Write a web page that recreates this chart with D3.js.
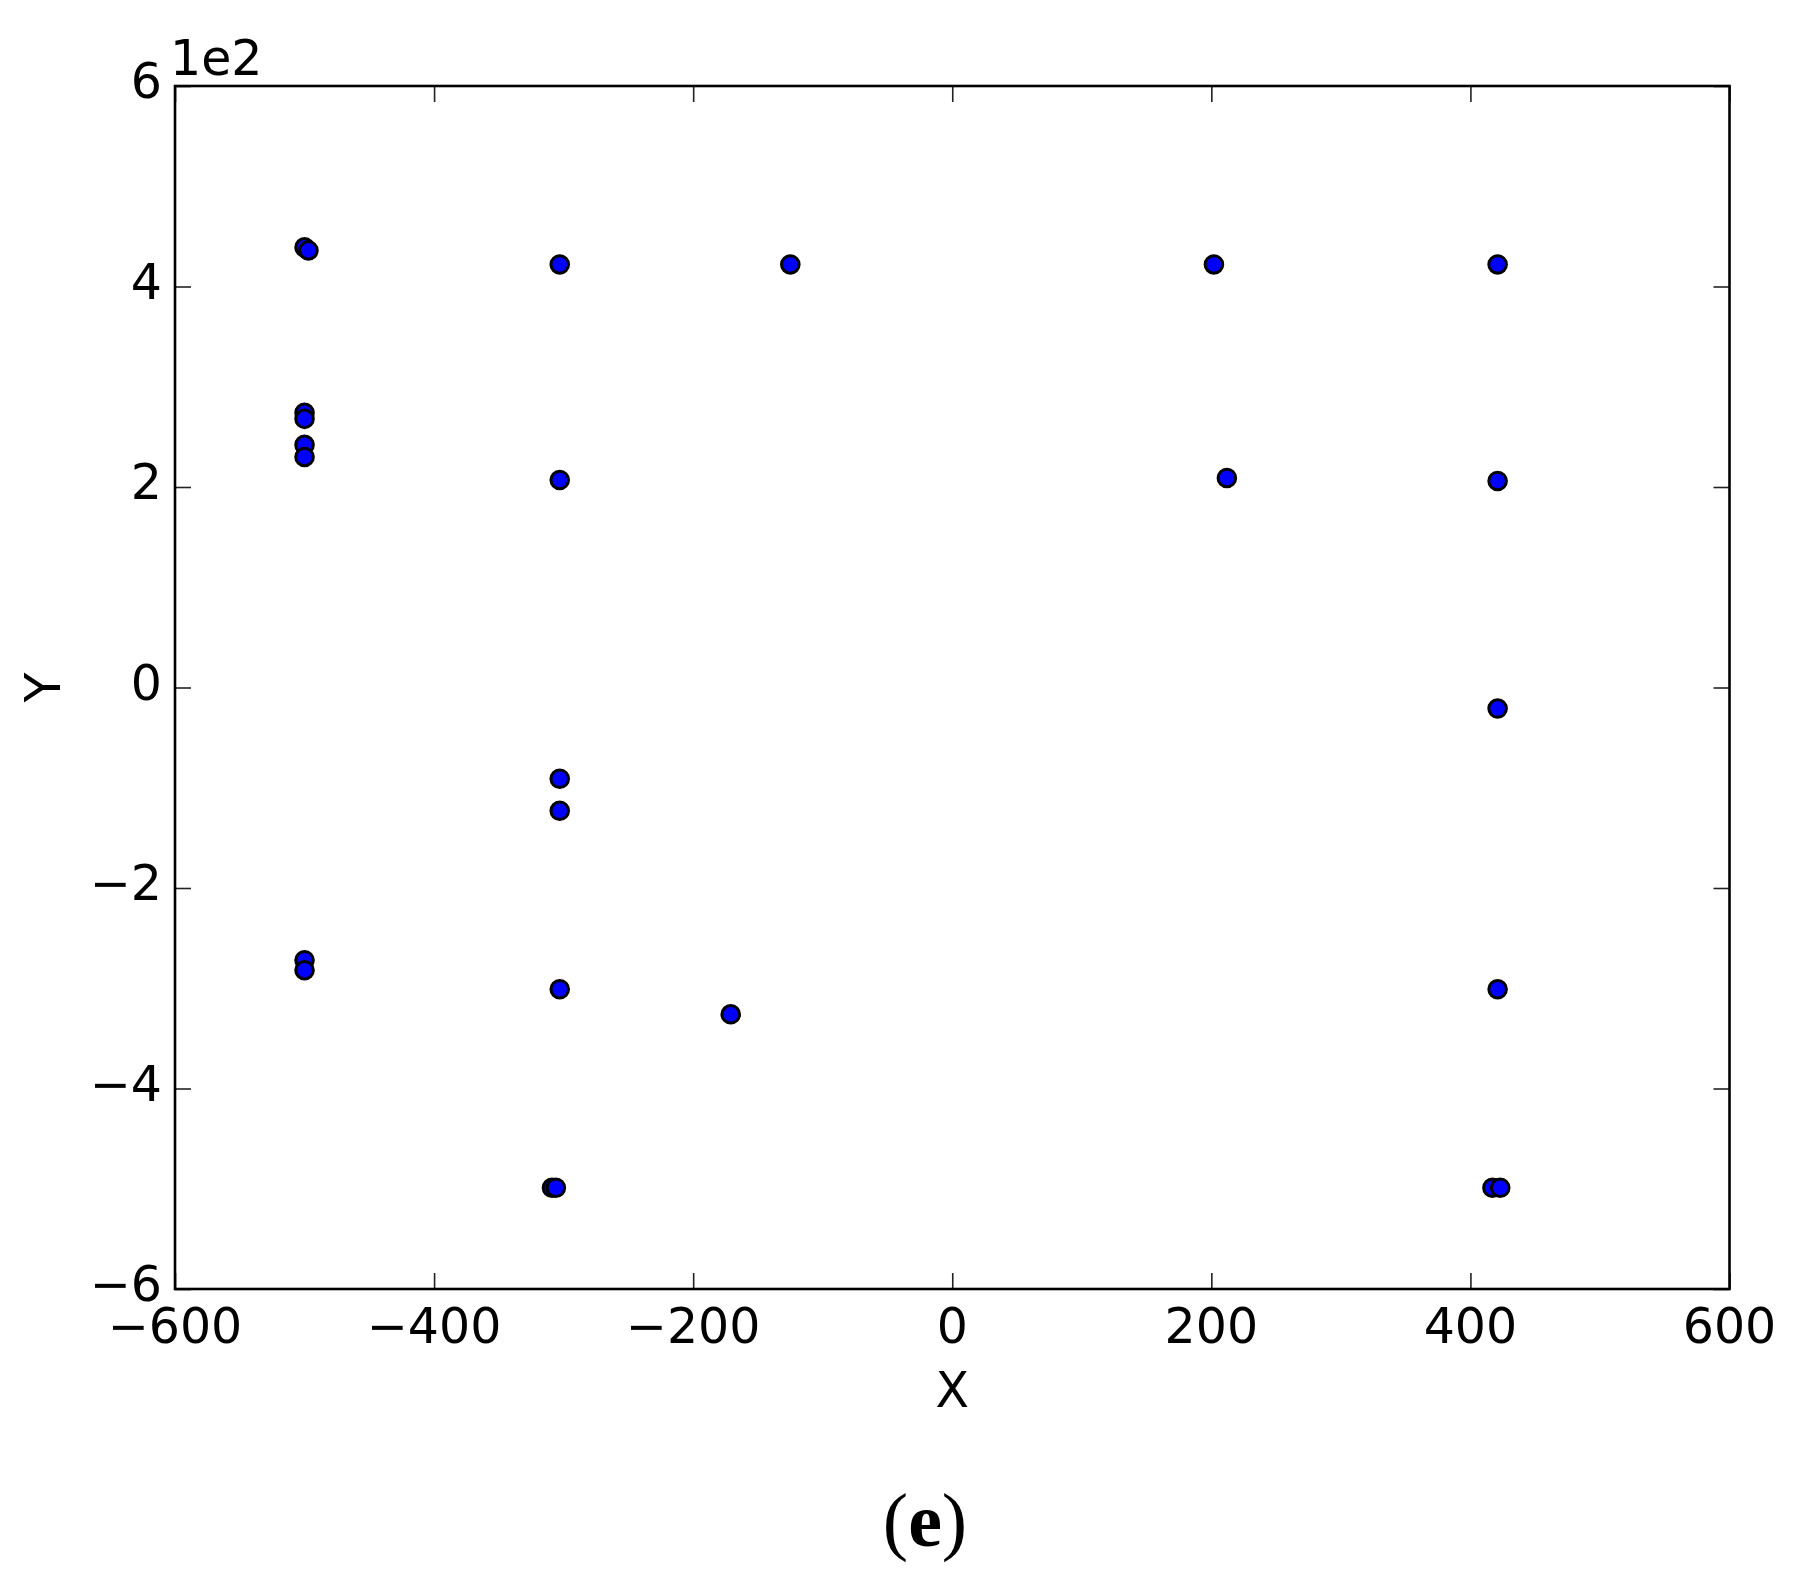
<!DOCTYPE html>
<html>
<head>
<meta charset="utf-8">
<script src="https://cdn.jsdelivr.net/npm/d3@7"></script>
<style>
  html, body { margin: 0; padding: 0; background: #fff; }
  svg { display: block; }
  .tick-label { font-family: "DejaVu Sans", sans-serif; font-size: 49px; fill: #000; }
</style>
</head>
<body>
<script>
// ---- data (X, Y) ----
const xValues = [-500, -497, -500, -500, -500, -500, -500, -500,
                 -303, -303, -303, -303, -303, -309, -306,
                 -125, -171, 202, 212,
                 421, 421, 421, 421, 417, 423];
const yValues = [439, 436, 274, 268, 242, 230, -272, -282,
                 422, 207, -91, -123, -301, -499, -499,
                 422, -326, 422, 209,
                 422, 206, -21, -301, -499, -499];
const xTicks = [-600, -400, -200, 0, 200, 400, 600];
const yTicks = [-600, -400, -200, 0, 200, 400, 600];
const xDomain = [-600, 600];
const yDomain = [-600, 600];
const xLabel = "X";
const yLabel = "Y";
const offsetLabel = "1e2";
const panelLetter = "e";

const W = 1801, H = 1588;
const mLeft = 175, mRight = 1729.5, mTop = 86, mBottom = 1289;

const svg = d3.select("body").append("svg").attr("width", W).attr("height", H);
svg.append("rect").attr("width", W).attr("height", H).attr("fill", "#fff");

const x = d3.scaleLinear().domain(xDomain).range([mLeft, mRight]);
const y = d3.scaleLinear().domain(yDomain).range([mBottom, mTop]);
const minus = v => (v < 0 ? "\u2212" : "") + Math.abs(v);

// inward ticks on all four sides
const tickLen = 16;
const g = svg.append("g");
const axB = d3.axisBottom(x).tickValues(xTicks).tickSize(-tickLen).tickFormat("");
const axT = d3.axisTop(x).tickValues(xTicks).tickSize(-tickLen).tickFormat("");
const axL = d3.axisLeft(y).tickValues(yTicks).tickSize(-tickLen).tickFormat("");
const axR = d3.axisRight(y).tickValues(yTicks).tickSize(-tickLen).tickFormat("");
[[axB, `translate(0,${mBottom})`], [axT, `translate(0,${mTop})`],
 [axL, `translate(${mLeft},0)`], [axR, `translate(${mRight},0)`]].forEach(([ax, tr]) => {
  const a = g.append("g").attr("transform", tr).call(ax);
  a.select(".domain").remove();
  a.selectAll(".tick line").attr("stroke", "#222").attr("stroke-width", 1.6);
});

// x tick labels
svg.append("g").selectAll("text").data(xTicks).join("text")
  .attr("class", "tick-label")
  .attr("x", d => x(d)).attr("y", mBottom + 54)
  .attr("text-anchor", "middle")
  .text(d => minus(d));

// y tick labels (in hundreds)
svg.append("g").selectAll("text").data(yTicks).join("text")
  .attr("class", "tick-label")
  .attr("x", mLeft - 13).attr("y", d => y(d) + 12)
  .attr("text-anchor", "end")
  .text(d => minus(d / 100));

// offset text
svg.append("text").attr("class", "tick-label")
  .attr("x", 170).attr("y", 75).text(offsetLabel);

// axis labels
svg.append("text").attr("class", "tick-label")
  .attr("x", x(0)).attr("y", 1407).attr("text-anchor", "middle").text(xLabel);
svg.append("text").attr("class", "tick-label")
  .attr("transform", `translate(60,${y(0)}) rotate(-90)`)
  .attr("text-anchor", "middle").text(yLabel);

// points
const pts = xValues.map((v, i) => ({ x: v, y: yValues[i] }));
svg.append("g").selectAll("circle").data(pts).join("circle")
  .attr("cx", d => x(d.x)).attr("cy", d => y(d.y))
  .attr("r", 8.8)
  .attr("fill", "#0000ff").attr("stroke", "#000").attr("stroke-width", 3);

// frame
svg.append("rect").attr("x", mLeft).attr("y", mTop)
  .attr("width", mRight - mLeft).attr("height", mBottom - mTop)
  .attr("fill", "none").attr("stroke", "#000").attr("stroke-width", 2.6);

// panel letter
const cap = svg.append("text").attr("x", 925).attr("y", 1546)
  .attr("text-anchor", "middle")
  .style("font-family", "'Liberation Serif', 'DejaVu Serif', serif")
  .style("font-size", "76px").attr("fill", "#000");
cap.append("tspan").text("(");
cap.append("tspan").style("font-weight", "bold").text(panelLetter);
cap.append("tspan").text(")");
</script>
</body>
</html>
